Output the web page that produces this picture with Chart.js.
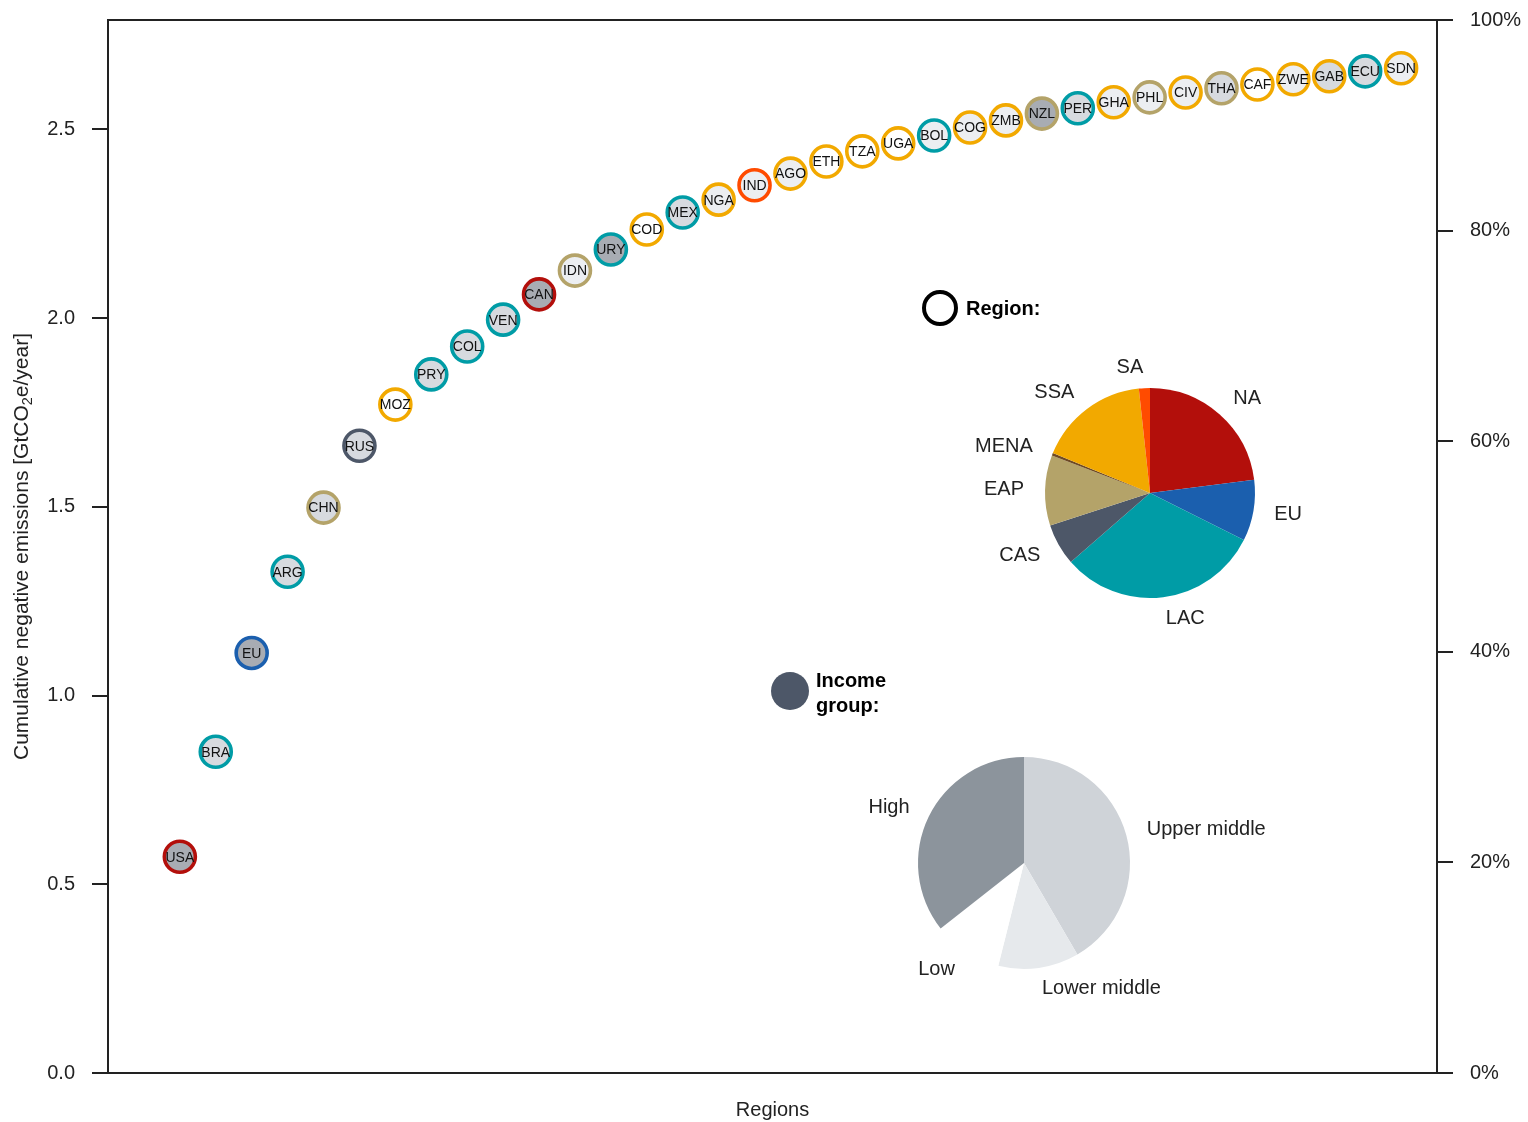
<!DOCTYPE html>
<html>
<head>
<meta charset="utf-8">
<title>Cumulative negative emissions by country</title>
<script src="https://cdn.jsdelivr.net/npm/chart.js@4.4.1/dist/chart.umd.min.js"></script>
<style>
  html, body { margin: 0; padding: 0; background: #fff; }
  #wrap { position: relative; width: 1528px; height: 1122px; overflow: hidden; }
  #wrap canvas { position: absolute; }
</style>
</head>
<body>
<div id="wrap">
  <canvas id="main" width="1528" height="1122" style="left:0;top:0"></canvas>
  <canvas id="regionPie" width="420" height="320" style="left:940px;top:333px"></canvas>
  <canvas id="incomePie" width="520" height="320" style="left:764px;top:703px"></canvas>
</div>
<script>
// ---- data -------------------------------------------------------------
const countries = ['USA','BRA','EU','ARG','CHN','RUS','MOZ','PRY','COL','VEN','CAN','IDN',
  'URY','COD','MEX','NGA','IND','AGO','ETH','TZA','UGA','BOL','COG','ZMB','NZL','PER',
  'GHA','PHL','CIV','THA','CAF','ZWE','GAB','ECU','SDN'];

// cumulative negative emissions, GtCO2e/year
const cumulativeEmissions = [0.573, 0.851, 1.113, 1.328, 1.498, 1.662, 1.771, 1.851, 1.925,
  1.996, 2.063, 2.126, 2.182, 2.235, 2.280, 2.314, 2.352, 2.383, 2.415, 2.442, 2.463,
  2.484, 2.505, 2.524, 2.542, 2.556, 2.572, 2.585, 2.598, 2.609, 2.619, 2.633, 2.641,
  2.654, 2.662];

const countryRegion = ['NA','LAC','EU','LAC','EAP','CAS','SSA','LAC','LAC','LAC','NA','EAP',
  'LAC','SSA','LAC','SSA','SA','SSA','SSA','SSA','SSA','LAC','SSA','SSA','EAP','LAC',
  'SSA','EAP','SSA','EAP','SSA','SSA','SSA','LAC','SSA'];

const countryIncome = ['High','Upper middle','High','Upper middle','Upper middle','Upper middle',
  'Low','Upper middle','Upper middle','Upper middle','High','Lower middle','High','Low',
  'Upper middle','Lower middle','Lower middle','Lower middle','Low','Low','Low',
  'Lower middle','Lower middle','Lower middle','High','Upper middle','Lower middle',
  'Lower middle','Lower middle','Upper middle','Low','Lower middle','Upper middle',
  'Upper middle','Lower middle'];

// total of all countries (= 100 % on the right axis)
const totalEmissions = 2.79;

const leftTicks = [0, 0.5, 1.0, 1.5, 2.0, 2.5];
const rightTicks = [0, 20, 40, 60, 80, 100];

const regions = ['NA','EU','LAC','CAS','EAP','MENA','SSA','SA'];
const regionShares = [23.0, 9.4, 31.2, 6.4, 10.8, 0.4, 17.1, 1.7];

const incomeGroups = ['Upper middle','Lower middle','Low','High'];
const incomeShares = [41.6, 12.3, 10.5, 35.6];

// ---- styles -----------------------------------------------------------
const regionColors = {
  NA: '#b30f0b', EU: '#1b5fae', LAC: '#009ca6', CAS: '#4d5768',
  EAP: '#b4a369', MENA: '#6e4a24', SSA: '#f2a900', SA: '#ff4b00'
};
const incomePieColors = {
  'Upper middle': '#cfd3d8', 'Lower middle': '#e6e9ec', 'Low': '#ffffff', 'High': '#8c949c'
};
const incomePointColors = {
  'High': '#a8acb3', 'Upper middle': '#d7dadf', 'Lower middle': '#eceef1', 'Low': '#ffffff'
};

const FONT = "'Liberation Sans', Arial, Helvetica, sans-serif";
const INK = '#222222';
const AXIS = '#222222';
const AXIS_W = 2;

Chart.defaults.font.family = FONT;
Chart.defaults.color = INK;

// ---- plugins ----------------------------------------------------------
const pointLabels = {
  id: 'pointLabels',
  afterDatasetsDraw(chart) {
    const ctx = chart.ctx;
    const meta = chart.getDatasetMeta(0);
    ctx.save();
    ctx.font = '14px ' + FONT;
    ctx.fillStyle = '#111';
    ctx.textAlign = 'center';
    ctx.textBaseline = 'middle';
    meta.data.forEach((pt, i) => ctx.fillText(countries[i], pt.x, pt.y + 1));
    ctx.restore();
  }
};

const frameAndKeys = {
  id: 'frameAndKeys',
  afterDraw(chart) {
    const ctx = chart.ctx;
    const a = chart.chartArea;
    ctx.save();
    // top edge of the plot box
    ctx.strokeStyle = AXIS;
    ctx.lineWidth = AXIS_W;
    ctx.beginPath();
    ctx.moveTo(a.left, a.top);
    ctx.lineTo(a.right, a.top);
    ctx.stroke();

    // y-axis title with subscript
    ctx.translate(22, (a.top + a.bottom) / 2);
    ctx.rotate(-Math.PI / 2);
    ctx.fillStyle = INK;
    ctx.textBaseline = 'middle';
    ctx.textAlign = 'left';
    const partA = 'Cumulative negative emissions [GtCO';
    const partB = '2';
    const partC = 'e/year]';
    const big = '21px ' + FONT, small = '14.5px ' + FONT;
    ctx.font = big; const wA = ctx.measureText(partA).width; const wC = ctx.measureText(partC).width;
    ctx.font = small; const wB = ctx.measureText(partB).width;
    const x0 = -(wA + wB + wC) / 2;
    ctx.font = big; ctx.fillText(partA, x0, 0);
    ctx.font = small; ctx.fillText(partB, x0 + wA, 6);
    ctx.font = big; ctx.fillText(partC, x0 + wA + wB, 0);
    ctx.restore();

    // key: region ring and income-group dot
    ctx.save();
    ctx.strokeStyle = '#000';
    ctx.lineWidth = 4;
    ctx.beginPath();
    ctx.arc(940, 308, 16, 0, Math.PI * 2);
    ctx.stroke();
    ctx.fillStyle = regionColors.CAS;
    ctx.beginPath();
    ctx.arc(790, 691, 19, 0, Math.PI * 2);
    ctx.fill();
    ctx.fillStyle = '#000';
    ctx.font = 'bold 20px ' + FONT;
    ctx.textAlign = 'left';
    ctx.textBaseline = 'middle';
    ctx.fillText('Region:', 966, 309);
    ctx.fillText('Income', 816, 681);
    ctx.fillText('group:', 816, 706);
    ctx.restore();
  }
};

const sliceLabels = {
  id: 'sliceLabels',
  afterDatasetsDraw(chart) {
    const ctx = chart.ctx;
    const meta = chart.getDatasetMeta(0);
    const labels = chart.data.labels;
    ctx.save();
    ctx.font = '20px ' + FONT;
    ctx.fillStyle = INK;
    ctx.textBaseline = 'middle';
    meta.data.forEach((arc, i) => {
      const mid = (arc.startAngle + arc.endAngle) / 2;
      const r = arc.outerRadius * 1.2;
      const c = Math.cos(mid), s = Math.sin(mid);
      ctx.textAlign = c >= 0 ? 'left' : 'right';
      ctx.fillText(labels[i], arc.x + r * c, arc.y + r * s);
    });
    ctx.restore();
  }
};

// ---- main scatter chart -----------------------------------------------
const tickGrid = {
  drawOnChartArea: false,
  drawTicks: true,
  tickLength: 16,
  color: AXIS,
  lineWidth: AXIS_W
};

// fixed axis band widths; tick labels may overhang the plot edges
function fixVertical(width) {
  return s => {
    s.width = width;
    s.paddingTop = 0;
    s.paddingBottom = 0;
  };
}

new Chart(document.getElementById('main'), {
  type: 'scatter',
  data: {
    datasets: [{
      data: countries.map((c, i) => ({ x: i + 1, y: cumulativeEmissions[i] })),
      backgroundColor: countryIncome.map(g => incomePointColors[g]),
      borderColor: countryRegion.map(r => regionColors[r]),
      borderWidth: 3.6,
      pointRadius: 15.5,
      pointHoverRadius: 15.5
    }]
  },
  options: {
    responsive: false,
    animation: false,
    devicePixelRatio: 1,
    events: [],
    layout: { padding: { top: 20, left: 0, right: 0, bottom: 0 } },
    plugins: { legend: { display: false }, tooltip: { enabled: false } },
    scales: {
      x: {
        type: 'linear',
        min: -1,
        max: 36,
        grid: { display: false },
        border: { display: true, color: AXIS, width: AXIS_W },
        ticks: { display: false },
        title: { display: true, text: 'Regions', font: { size: 20 }, color: INK, padding: { top: 0, bottom: 0 } },
        afterFit: s => { s.height = 49; s.paddingLeft = 0; s.paddingRight = 0; }
      },
      y: {
        position: 'left',
        min: 0,
        max: totalEmissions,
        grid: tickGrid,
        border: { display: true, color: AXIS, width: AXIS_W },
        ticks: { font: { size: 20 }, color: INK, padding: 17, callback: v => v.toFixed(1) },
        afterBuildTicks: s => { s.ticks = leftTicks.map(v => ({ value: v })); },
        afterFit: fixVertical(108)
      },
      y2: {
        position: 'right',
        display: true,
        min: 0,
        max: 100,
        grid: tickGrid,
        border: { display: true, color: AXIS, width: AXIS_W },
        ticks: { font: { size: 20 }, color: INK, padding: 17, callback: v => v + '%' },
        afterBuildTicks: s => { s.ticks = rightTicks.map(v => ({ value: v })); },
        afterFit: fixVertical(91)
      }
    }
  },
  plugins: [pointLabels, frameAndKeys]
});

// ---- pies -------------------------------------------------------------
function pieOptions() {
  return {
    responsive: false,
    animation: false,
    devicePixelRatio: 1,
    events: [],
    layout: { padding: 0 },
    plugins: { legend: { display: false }, tooltip: { enabled: false } }
  };
}

new Chart(document.getElementById('regionPie'), {
  type: 'pie',
  data: {
    labels: regions,
    datasets: [{
      data: regionShares,
      backgroundColor: regions.map(r => regionColors[r]),
      borderWidth: 0,
      hoverOffset: 0,
      radius: 105
    }]
  },
  options: pieOptions(),
  plugins: [sliceLabels]
});

new Chart(document.getElementById('incomePie'), {
  type: 'pie',
  data: {
    labels: incomeGroups,
    datasets: [{
      data: incomeShares,
      backgroundColor: incomeGroups.map(g => incomePieColors[g]),
      borderWidth: 0,
      hoverOffset: 0,
      radius: 106
    }]
  },
  options: pieOptions(),
  plugins: [sliceLabels]
});
</script>
</body>
</html>
